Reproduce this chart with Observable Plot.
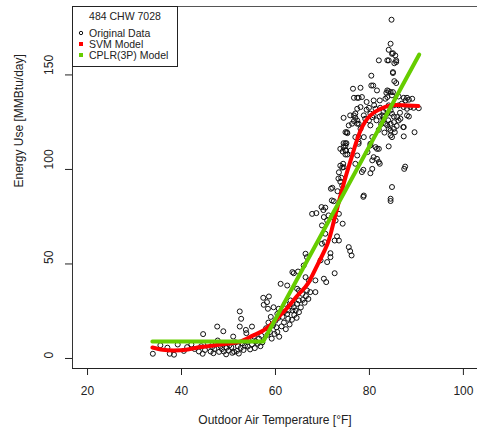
<!DOCTYPE html>
<html><head><meta charset="utf-8">
<script src="https://cdn.jsdelivr.net/npm/d3@7"></script>
<script src="https://cdn.jsdelivr.net/npm/@observablehq/plot@0.6"></script>
<style>
body{margin:0;background:#fff;font-family:"Liberation Sans",Arial,sans-serif;}
#wrap{position:relative;width:477px;height:432px;overflow:hidden;background:#fff}
#legend{position:absolute;left:72px;top:6px;width:106px;height:61px;border:1px solid #222;background:#fff;box-sizing:border-box;font-size:10.5px;color:#222;line-height:1}
#legend .t{position:absolute;left:0;width:104px;text-align:center;top:4px}
#legend .row{position:absolute;left:16px;white-space:nowrap}
#legend .m{position:absolute;left:-10px;top:3px}
</style></head><body><div id="wrap"><div id="legend"></div></div>
<script>
// Chart content
const legendTitle = "484 CHW 7028";
const seriesNames = ["Original Data", "SVM Model", "CPLR(3P) Model"];
const xLabel = "Outdoor Air Temperature [°F]";
const yLabel = "Energy Use [MMBtu/day]";
const xTicks = [20, 40, 60, 80, 100];
const yTicks = [0, 50, 100, 150];

const obsTemp = [
  33.9,35.5,37.0,37.5,38.4,39.2,40.5,41.2,42.1,42.8,43.7,44.2,44.5,44.6,45.0,45.6,46.2,46.5,46.8,47.0,
  47.3,47.6,47.7,48.0,48.3,48.6,48.9,49.0,49.3,49.5,49.6,50.0,50.2,50.6,50.8,51.0,51.2,51.5,51.8,52.0,
  52.2,52.4,52.6,52.7,52.4,53.0,53.2,53.5,53.7,53.8,54.1,54.3,54.6,55.0,55.0,55.4,55.6,55.8,56.2,56.5,
  56.8,57.0,57.2,
  57.4,57.5,58.4,58.6,58.2,59.6,60.7,60.4,61.8,62.5,62.8,63.6,64.3,63.9,64.6,65.0,63.6,63.2,62.1,61.1,
  62.5,64.6,65.0,65.7,66.7,67.4,68.5,63.6,63.9,66.4,67.1,68.5,70.3,70.8,72.6,66.0,66.4,66.7,69.6,71.0,
  71.7,71.7,58.0,58.3,58.5,58.8,59.0,59.2,59.5,59.8,60.0,60.2,60.4,60.6,60.8,61.3,61.5,61.8,62.2,62.7,
  63.0,63.5,64.0,64.5,65.0,65.4,65.8,66.2,66.5,67.0,64.8,
  67.8,68.7,69.8,70.6,70.2,70.3,71.0,71.3,72.0,72.8,73.5,74.3,69.9,70.6,69.9,70.5,72.6,73.5,73.1,72.1,
  71.8,72.4,72.0,73.2,73.4,73.5,74.0,73.8,74.2,73.8,74.4,74.2,74.5,74.9,75.0,73.8,74.3,74.5,74.9,74.9,
  74.9,75.2,75.1,74.5,74.9,75.3,75.6,75.9,76.2,
  77.7,80.2,81.3,81.6,81.6,80.9,82.0,80.6,82.2,78.7,78.4,80.2,80.6,78.8,78.7,77.7,78.8,77.4,76.0,77.0,
  79.6,80.2,82.0,77.7,
  84.8,84.5,84.5,87.4,87.6,89.6,88.0,87.2,84.1,85.4,87.3,
  84.7,84.5,84.1,85.0,85.5,84.1,85.3,85.7,82.0,85.0,80.4,85.3,85.7,80.4,80.8,81.6,76.5,78.1,83.8,84.1,
  84.5,76.7,77.4,78.4,79.4,80.9,82.2,83.4,83.8,84.8,86.2,87.3,87.7,88.0,88.4,89.1,77.4,79.4,79.9,81.3,
  82.3,84.1,85.2,86.2,86.9,87.3,88.0,88.7,89.4,90.5,74.5,76.7,77.0,77.4,76.7,78.8,79.1,80.2,80.6,80.9,
  82.2,82.7,83.0,83.8,84.5,84.8,85.2,85.9,86.6,88.4,75.6,76.3,77.4,78.1,79.9,80.2,83.0,83.4,83.8,84.5,
  85.2,86.2,84.1,84.5,85.2,75.3,77.0,80.6,84.5,84.8,87.3,
  75.9,77.0,78.1,77.7,83.8,84.8,85.7,85.0,83.6,85.0,77.7,
  83.0,83.5,84.0,82.5,81.5,82.0,83.2,85.8,86.5,81.0
];
const obsEnergy = [
  2.5,7.0,5.7,2.5,2.0,7.4,4.0,6.0,7.4,5.0,3.7,6.5,2.5,12.9,4.5,8.0,3.7,6.0,2.8,5.0,
  7.5,16.9,9.5,3.5,6.5,5.0,14.4,3.7,8.0,2.2,5.7,4.2,7.0,6.0,3.0,11.6,3.5,8.5,4.0,6.5,
  2.6,16.9,5.5,21.0,24.9,8.0,4.5,6.8,15.1,13.4,6.3,9.5,4.8,16.9,7.5,11.6,5.5,9.0,7.8,10.5,
  6.5,12.0,8.5,
  32.1,28.4,26.3,32.8,29.8,27.1,26.3,23.6,24.5,23.6,25.4,25.4,25.4,27.1,28.9,30.7,28.9,30.7,28.9,39.5,
  38.6,36.9,36.0,34.2,36.0,35.1,35.1,45.7,45.1,43.0,41.3,41.3,42.2,40.4,45.1,49.2,55.4,53.6,51.9,51.0,
  53.6,55.7,16.0,12.5,19.0,14.0,22.0,10.5,17.5,13.0,20.0,16.5,14.0,21.5,11.5,17.0,22.0,19.0,15.5,21.0,
  18.0,20.5,23.0,21.5,24.5,27.0,31.0,29.5,33.0,31.5,46.0,
  76.5,76.9,80.1,79.8,78.5,74.8,73.0,75.7,74.8,73.0,76.5,71.3,70.4,66.0,60.7,61.5,62.4,62.4,64.6,90.3,
  89.8,83.2,83.6,88.5,95.2,98.5,95.6,93.5,91.5,102.0,103.0,101.0,101.2,107.9,110.0,110.9,109.5,113.9,113.8,112.5,
  119.7,119.7,113.9,111.8,110.1,107.9,58.9,56.8,54.5,
  117.1,112.7,111.8,110.9,105.6,106.5,103.9,104.8,103.0,99.8,98.6,98.0,100.3,86.2,85.5,113.6,117.1,107.4,110.0,103.0,
  109.2,113.6,110.9,114.6,
  90.7,84.5,83.3,100.3,101.5,119.7,128.6,122.4,112.2,119.7,117.5,
  179.2,166.5,163.3,161.5,160.3,157.7,156.2,156.8,157.7,151.0,149.6,146.7,145.7,144.4,144.4,141.8,142.7,143.2,141.8,141.4,
  140.9,137.9,137.9,138.3,135.7,136.5,136.5,137.4,138.3,139.2,138.6,137.9,136.5,137.9,136.9,137.4,132.1,131.6,132.6,132.1,
  132.6,133.9,133.9,133.9,134.8,133.0,132.1,133.0,132.6,132.4,127.3,128.6,127.3,125.9,125.6,128.6,126.8,129.5,127.7,128.6,
  128.0,128.6,127.7,129.5,131.2,129.5,128.0,127.7,126.8,128.0,123.3,124.2,124.2,121.5,125.9,123.3,125.9,124.2,123.3,124.2,
  125.0,125.9,121.5,120.6,121.5,119.2,117.1,117.1,118.0,117.1,122.4,
  128.6,129.6,133.0,124.2,157.7,161.2,157.7,151.5,140.5,140.9,137.9,
  130.5,132.0,126.0,124.0,126.0,121.0,119.5,123.0,130.0,134.0
];

// SVM model curve
const svmTemp = [33.8,36,38.3,41,43.4,46,48.3,50,51.9,53.5,55.3,57,58.3,59.7,61,62.5,63.8,65.3,67,69.1,71.1,72.3,73.4,74.9,76.4,78.1,80.2,82.3,84.5,87,90.4];
const svmEnergy = [5.8,4.6,4.2,4.6,5.8,6.6,7.4,7.9,8.5,10.0,12.2,14.2,16.4,19.5,22.8,26.7,30.7,35,40,50.3,60.8,71.4,82,95.8,108,120.6,128.6,132,133.9,134,133.5];

// CPLR(3P) model: flat then linear
const cplrTemp = [33.8, 57.4, 90.6];
const cplrEnergy = [9.0, 9.0, 160.8];

const xDomain = [16.8, 103.0];
const yDomain = [-5.3, 186.2];

const obs = obsTemp.map((t, i) => ({t, e: obsEnergy[i]}));
const svm = svmTemp.map((t, i) => ({t, e: svmEnergy[i]}));
const cplr = cplrTemp.map((t, i) => ({t, e: cplrEnergy[i]}));

const red = "#ff0000", green = "#66cd00", ink = "#222";

const chart = Plot.plot({
  width: 477, height: 432,
  marginLeft: 72, marginRight: 0, marginTop: 6, marginBottom: 64,
  style: {fontFamily: "'Liberation Sans', Arial, sans-serif", fontSize: "12px", color: ink, background: "white"},
  x: {domain: xDomain, ticks: xTicks, tickSize: 7, tickPadding: 11, label: null},
  y: {domain: yDomain, ticks: yTicks, tickSize: 7, tickFormat: () => "", label: null},
  marks: [
    Plot.ruleX([xDomain[0]], {stroke: "#333"}),
    Plot.ruleY([yDomain[0]], {stroke: "#222"}),
    Plot.ruleY([yDomain[1]], {stroke: "#555"}),
    Plot.dot(obs, {x: "t", y: "e", r: 2.5, stroke: "#111", strokeWidth: 1, fill: "none"}),
    Plot.line(svm, {x: "t", y: "e", stroke: red, strokeWidth: 4, curve: "natural"}),
    Plot.line(cplr, {x: "t", y: "e", stroke: green, strokeWidth: 4}),
    Plot.text(yTicks, {y: d => d, frameAnchor: "left", dx: -23, rotate: -90, text: d => String(d), fontSize: 12}),
    Plot.text([xLabel], {frameAnchor: "bottom", dy: 55, text: d => d, fontSize: 12}),
    Plot.text([yLabel], {frameAnchor: "left", dx: -53, rotate: -90, text: d => d, fontSize: 12})
  ]
});
const wrap = document.getElementById("wrap");
wrap.insertBefore(chart, wrap.firstChild);

const lg = document.getElementById("legend");
lg.innerHTML = `<div class="t">${legendTitle}</div>` +
  seriesNames.map((n, i) => {
    const top = [21, 32, 43][i];
    const m = i === 0
      ? `<svg class="m" width="6" height="6" style="top:2px;left:-11px"><circle cx="3" cy="3" r="1.7" fill="none" stroke="#111" stroke-width="1"/></svg>`
      : `<svg class="m" width="5" height="5" style="top:3px;left:-10px"><rect width="4" height="4" fill="${i === 1 ? red : green}"/></svg>`;
    return `<div class="row" style="top:${top}px">${m}${n}</div>`;
  }).join("");
</script></body></html>
